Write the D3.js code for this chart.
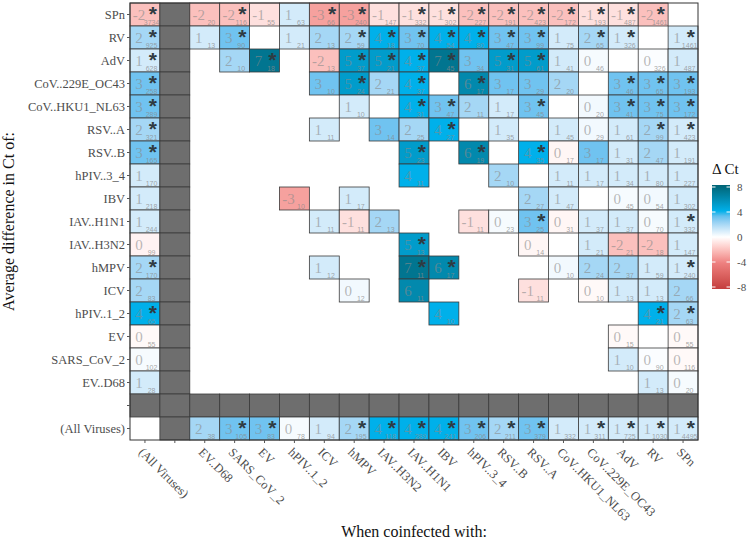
<!DOCTYPE html>
<html><head><meta charset="utf-8">
<script src="https://cdn.jsdelivr.net/npm/d3@7"></script>
<style>body{margin:0;background:#fff}svg{display:block}</style>
</head><body><svg id="c" width="750" height="543"></svg>
<script>
const rowLabels = ["SPn","RV","AdV","CoV..229E_OC43","CoV..HKU1_NL63","RSV..A","RSV..B","hPIV..3_4","IBV","IAV..H1N1","IAV..H3N2","hMPV","ICV","hPIV..1_2","EV","SARS_CoV_2","EV..D68","","(All Viruses)"];
const colLabels = ["(All Viruses)","","EV..D68","SARS_CoV_2","EV","hPIV..1_2","ICV","hMPV","IAV..H3N2","IAV..H1N1","IBV","hPIV..3_4","RSV..B","RSV..A","CoV..HKU1_NL63","CoV..229E_OC43","AdV","RV","SPn"];
const _ = null;
// average difference in Ct (rows = virus measured, cols = coinfecting virus)
const deltaCt = [
 [-2,_,-2,-2,-1,1,-3,-3,-1,-1,-1,-2,-2,-2,-2,-1,-1,-2,_],
 [2,_,1,3,_,1,2,2,4,3,4,4,3,3,1,2,1,_,1],
 [1,_,_,2,7,_,-2,5,5,4,7,3,5,5,1,0.2,_,0.1,1],
 [3,_,_,_,_,_,3,5,2,4,_,6,3,3,2,_,3,3,3],
 [3,_,_,_,_,_,_,1,_,4,3,2,1,3,_,0.3,3,3,3],
 [2,_,_,_,_,_,1,_,3,2,4,_,1,_,1,0.3,1,2,1],
 [3,_,_,_,_,_,_,_,_,5,_,6,_,4,-0.3,3,1,2,1],
 [1,_,_,_,_,_,_,_,_,4,_,_,2,_,1,1,1,1,1],
 [1,_,_,_,_,-3,_,1,_,_,_,_,_,2,1,_,0.2,0.3,1],
 [1,_,_,_,_,_,1,-1,2,_,_,-1,0.2,3,-0.3,1,1,0.2,1],
 [-0.4,_,_,_,_,_,_,_,_,5,_,_,_,-0.3,_,1,-2,-2,1],
 [2,_,_,_,_,_,1,_,_,7,6,_,_,_,0.3,2,2,1,1],
 [2,_,_,_,_,_,_,0.3,_,6,_,_,_,-1,_,-0.2,1,1,2],
 [4,_,_,_,_,_,_,_,_,_,4,_,_,_,_,_,_,4,2],
 [-0.2,_,_,_,_,_,_,_,_,_,_,_,_,_,_,_,-0.2,_,-0.2],
 [0.2,_,_,_,_,_,_,_,_,_,_,_,_,_,_,_,1,0.1,-0.2],
 [1,_,_,_,_,_,_,_,_,_,_,_,_,_,_,_,_,1,0.2],
 [_,_,_,_,_,_,_,_,_,_,_,_,_,_,_,_,_,_,_],
 [_,_,2,3,3,0.2,1,2,4,4,4,3,2,3,1,1,1,1,1]
];
// number of coinfected samples
const nPairs = [
 [3734,_,20,116,55,63,66,240,147,332,302,227,191,423,172,193,487,1461,_],
 [925,_,13,90,_,21,13,59,18,70,54,80,47,99,75,65,326,_,1461],
 [628,_,_,10,18,_,13,37,21,37,45,34,31,61,41,46,_,326,487],
 [258,_,_,_,_,_,10,24,21,37,_,17,17,29,20,_,46,65,193],
 [289,_,_,_,_,_,_,10,_,31,47,11,17,45,_,20,41,75,172],
 [321,_,_,_,_,_,11,_,14,25,27,_,35,_,45,29,61,99,423],
 [165,_,_,_,_,_,_,_,_,23,_,19,_,35,17,17,31,47,191],
 [170,_,_,_,_,_,_,_,_,11,_,_,10,_,11,17,34,80,227],
 [218,_,_,_,_,10,_,17,_,_,_,_,_,27,47,_,45,54,302],
 [244,_,_,_,_,_,11,11,13,_,_,11,23,25,31,37,37,70,332],
 [99,_,_,_,_,_,_,_,_,13,_,_,_,14,_,21,21,18,147],
 [170,_,_,_,_,_,12,_,_,11,17,_,_,_,10,24,37,59,240],
 [83,_,_,_,_,_,_,12,_,11,_,_,_,11,_,10,13,13,66],
 [65,_,_,_,_,_,_,_,_,_,10,_,_,_,_,_,_,21,63],
 [55,_,_,_,_,_,_,_,_,_,_,_,_,_,_,_,15,_,55],
 [102,_,_,_,_,_,_,_,_,_,_,_,_,_,_,_,10,90,116],
 [28,_,_,_,_,_,_,_,_,_,_,_,_,_,_,_,_,13,20],
 [_,_,_,_,_,_,_,_,_,_,_,_,_,_,_,_,_,_,_],
 [_,_,38,105,83,78,94,195,118,289,241,206,211,379,332,311,725,1030,4495]
];
// significant difference (asterisk)
const signif = [
 [1,0,0,1,0,0,1,1,0,1,1,1,1,1,1,1,1,1,0],
 [1,0,0,1,0,0,0,1,1,1,1,1,1,1,0,1,1,0,1],
 [1,0,0,0,1,0,0,1,1,1,1,0,1,1,0,0,0,0,0],
 [1,0,0,0,0,0,0,1,0,1,0,1,0,0,0,0,1,1,1],
 [1,0,0,0,0,0,0,0,0,1,1,0,0,1,0,0,1,1,1],
 [1,0,0,0,0,0,0,0,0,0,1,0,0,0,0,0,0,1,1],
 [1,0,0,0,0,0,0,0,0,1,0,1,0,1,0,0,0,0,0],
 [0,0,0,0,0,0,0,0,0,0,0,0,0,0,0,0,0,0,0],
 [0,0,0,0,0,0,0,0,0,0,0,0,0,0,0,0,0,0,0],
 [0,0,0,0,0,0,0,0,0,0,0,0,0,1,0,0,0,0,1],
 [0,0,0,0,0,0,0,0,0,1,0,0,0,0,0,0,0,0,0],
 [1,0,0,0,0,0,0,0,0,1,1,0,0,0,0,0,0,0,1],
 [0,0,0,0,0,0,0,0,0,0,0,0,0,0,0,0,0,0,0],
 [1,0,0,0,0,0,0,0,0,0,0,0,0,0,0,0,0,1,1],
 [0,0,0,0,0,0,0,0,0,0,0,0,0,0,0,0,0,0,0],
 [0,0,0,0,0,0,0,0,0,0,0,0,0,0,0,0,0,0,0],
 [0,0,0,0,0,0,0,0,0,0,0,0,0,0,0,0,0,0,0],
 [0,0,0,0,0,0,0,0,0,0,0,0,0,0,0,0,0,0,0],
 [0,0,0,1,1,0,0,1,1,1,1,1,1,1,0,1,1,1,1]
];
const grayRow = 17, grayCol = 1;
const legendTicks = [8,4,0,-4,-8];

const SERIF = "'Liberation Serif','Times New Roman',serif";
const SANS = "'Liberation Sans',Arial,sans-serif";
const svg = d3.select("#c");

const x = d3.scaleBand().domain(d3.range(colLabels.length)).range([130,698]);
const y = d3.scaleBand().domain(d3.range(rowLabels.length)).range([3,440]);
const color = d3.scaleLinear().domain([-8,-4,0,4,8])
  .range(["#c43d3d","#ee8080","#ffffff","#00b0ea","#006374"])
  .interpolate(d3.interpolateLab).clamp(true);

const cells = [];
rowLabels.forEach((r,ri)=>colLabels.forEach((c,ci)=>{
  const gray = ri===grayRow || ci===grayCol;
  const v = deltaCt[ri][ci];
  if (gray || v!==null) cells.push({ri,ci,gray,v,n:nPairs[ri][ci],s:signif[ri][ci]});
}));

const g = svg.append("g");
const cg = g.selectAll("g.cell").data(cells).join("g")
  .attr("transform", d=>`translate(${x(d.ci)},${y(d.ri)})`);
cg.append("rect").attr("width", x.bandwidth()).attr("height", y.bandwidth())
  .attr("fill", d=> d.gray ? "#6e6e6e" : color(d.v))
  .attr("stroke", "#3a3a3a").attr("stroke-width", 0.8);
const bw = x.bandwidth(), bh = y.bandwidth();
const vc = cg.filter(d=>!d.gray);
vc.append("text").attr("x", 9).attr("y", 17).attr("text-anchor","middle")
  .attr("font-family", SERIF).attr("font-size", 15).attr("fill","#8a8a8a").attr("fill-opacity",0.6)
  .text(d=> String(Math.round(d.v)||0));
vc.append("text").attr("x", bw*0.72).attr("y", 21.5).attr("text-anchor","middle")
  .attr("font-family", SANS).attr("font-size", 7).attr("fill","#8a8a8a").attr("fill-opacity",0.75)
  .text(d=>d.n);
vc.filter(d=>d.s).append("text").attr("x", bw*0.76).attr("y", 18).attr("text-anchor","middle")
  .attr("font-family", SANS).attr("font-size", 21).attr("font-weight","bold").attr("fill","#2f3b42")
  .text("*");

// panel border
svg.append("rect").attr("x",130).attr("y",3).attr("width",568).attr("height",437)
  .attr("fill","none").attr("stroke","#333").attr("stroke-width",1);

// axes
const ya = svg.append("g").attr("transform","translate(130,0)")
  .call(d3.axisLeft(y).tickSize(3).tickPadding(2).tickFormat(i=>rowLabels[i]));
ya.select(".domain").remove();
ya.selectAll("line").attr("stroke","#555");
ya.selectAll("text").attr("font-family",SERIF).attr("font-size",12.5).attr("fill","#4d4d4d");

const xa = svg.append("g").attr("transform","translate(0,440)")
  .call(d3.axisBottom(x).tickSize(3).tickFormat(i=>colLabels[i]));
xa.select(".domain").remove();
xa.selectAll("line").attr("stroke","#555");
xa.selectAll("text").attr("font-family",SERIF).attr("font-size",12.5).attr("fill","#4d4d4d")
  .attr("x",0).attr("y",0).attr("dy",0).attr("text-anchor","start")
  .attr("transform","translate(-7,13) rotate(45)");

svg.append("text").attr("x",414).attr("y",537).attr("text-anchor","middle")
  .attr("font-family",SERIF).attr("font-size",16).attr("fill","#111").text("When coinfected with:");
svg.append("text").attr("transform","translate(14,221.5) rotate(-90)").attr("text-anchor","middle")
  .attr("font-family",SERIF).attr("font-size",16).attr("fill","#111").text("Average difference in Ct of:");

// legend
const lx = 712, lw = 18;
const ly = d3.scaleLinear().domain([8,-8]).range([187,287]);
const defs = svg.append("defs");
const grad = defs.append("linearGradient").attr("id","lg").attr("x1",0).attr("x2",0).attr("y1",0).attr("y2",1);
d3.range(0,1.0001,0.05).forEach(t=>{
  grad.append("stop").attr("offset",t).attr("stop-color", color(8-16*t));
});
svg.append("rect").attr("x",lx).attr("y",185).attr("width",lw).attr("height",104).attr("fill","url(#lg)");
legendTicks.forEach(t=>{
  svg.append("line").attr("x1",lx).attr("x2",lx+3.5).attr("y1",ly(t)).attr("y2",ly(t)).attr("stroke","#fff");
  svg.append("line").attr("x1",lx+lw-3.5).attr("x2",lx+lw).attr("y1",ly(t)).attr("y2",ly(t)).attr("stroke","#fff");
  svg.append("text").attr("x",lx+lw+7).attr("y",ly(t)).attr("dy","0.35em")
    .attr("font-family",SERIF).attr("font-size",11).attr("fill","#4d4d4d").text(t);
});
svg.append("text").attr("x",lx).attr("y",174).attr("font-family",SERIF).attr("font-size",15)
  .attr("fill","#111").text("Δ Ct");
</script></body></html>
